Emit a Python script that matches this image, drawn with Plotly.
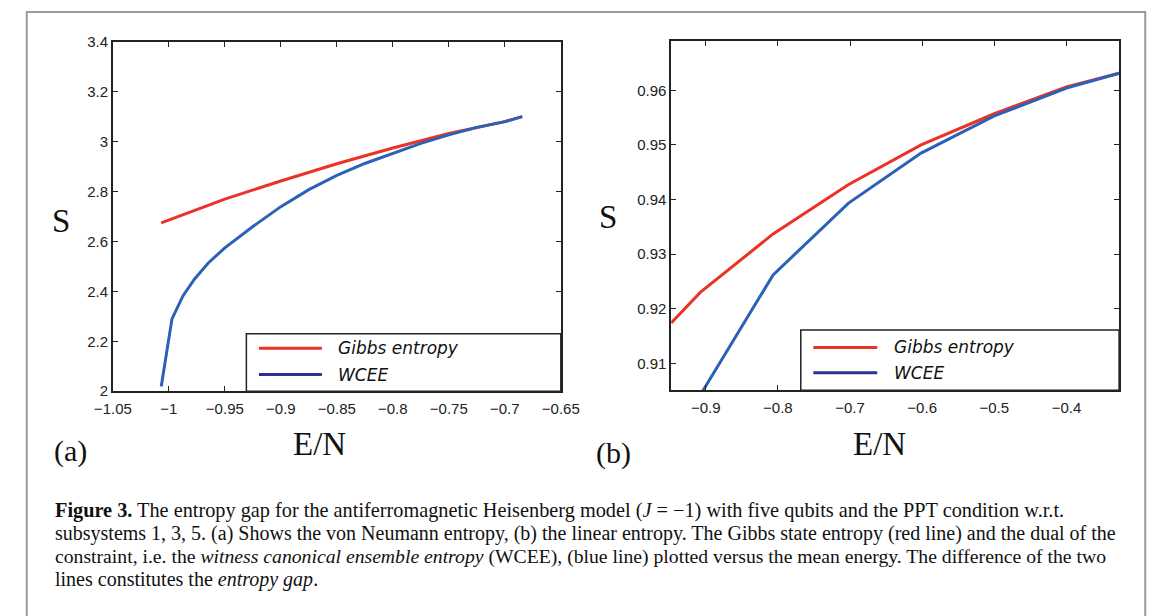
import plotly.graph_objects as go

W, H = 1171, 616

# ---------------- data ----------------
# panel (a): von Neumann entropy
a_gibbs_x = [-1.0068, -0.95, -0.9, -0.85, -0.8, -0.75, -0.7, -0.6845]
a_gibbs_y = [2.675, 2.770, 2.843, 2.912, 2.975, 3.033, 3.081, 3.101]
a_wcee_x = [-1.0068, -0.9972, -0.9873, -0.977, -0.965, -0.95, -0.925, -0.9,
            -0.875, -0.85, -0.825, -0.8, -0.775, -0.75, -0.725, -0.7, -0.6845]
a_wcee_y = [2.019, 2.290, 2.383, 2.450, 2.513, 2.575, 2.660, 2.740,
            2.808, 2.865, 2.913, 2.955, 2.994, 3.028, 3.058, 3.081, 3.101]

# panel (b): linear entropy
b_gibbs_x = [-0.948, -0.9076, -0.8066, -0.7025, -0.6015, -0.5, -0.4, -0.327]
b_gibbs_y = [0.9174, 0.9230, 0.9337, 0.9427, 0.9500, 0.9557, 0.9606, 0.9631]
b_wcee_x = [-0.948, -0.9076, -0.8066, -0.7025, -0.6015, -0.5, -0.4, -0.327]
b_wcee_y = [0.8940, 0.9042, 0.9262, 0.9393, 0.9485, 0.9553, 0.9604, 0.9631]

a_xticks = [-1.05, -1.0, -0.95, -0.9, -0.85, -0.8, -0.75, -0.7, -0.65]
a_xticktext = ["\u22121.05", "\u22121", "\u22120.95", "\u22120.9", "\u22120.85",
               "\u22120.8", "\u22120.75", "\u22120.7", "\u22120.65"]
a_yticks = [2.0, 2.2, 2.4, 2.6, 2.8, 3.0, 3.2, 3.4]
a_yticktext = ["2", "2.2", "2.4", "2.6", "2.8", "3", "3.2", "3.4"]

b_xticks = [-0.9, -0.8, -0.7, -0.6, -0.5, -0.4]
b_xticktext = ["\u22120.9", "\u22120.8", "\u22120.7", "\u22120.6", "\u22120.5", "\u22120.4"]
b_yticks = [0.91, 0.92, 0.93, 0.94, 0.95, 0.96]
b_yticktext = ["0.91", "0.92", "0.93", "0.94", "0.95", "0.96"]

legend_labels = ["Gibbs entropy", "WCEE"]

caption_lines = [
    "<b>Figure 3.</b> The entropy gap for the antiferromagnetic Heisenberg model (<i>J</i> = \u22121) with five qubits and the PPT condition w.r.t.",
    "subsystems 1, 3, 5. (a) Shows the von Neumann entropy, (b) the linear entropy. The Gibbs state entropy (red line) and the dual of the",
    "constraint, i.e. the <i>witness canonical ensemble entropy</i> (WCEE), (blue line) plotted versus the mean energy. The difference of the two",
    "lines constitutes the <i>entropy gap</i>.",
]

# ---------------- style ----------------
RED = "#ec3127"
BLUE = "#2b62b6"
NAVY = "#2e3192"
AX = "#222222"
SERIF = "Liberation Serif, Times New Roman, serif"
SANS = "Liberation Sans, Arial, sans-serif"


def px(x):
    return x / W


def py(y):
    return 1 - y / H


fig = go.Figure()
fig.add_trace(go.Scatter(x=a_gibbs_x, y=a_gibbs_y, mode="lines",
                         line=dict(color=RED, width=3), xaxis="x", yaxis="y"))
fig.add_trace(go.Scatter(x=a_wcee_x, y=a_wcee_y, mode="lines",
                         line=dict(color=BLUE, width=3), xaxis="x", yaxis="y"))
fig.add_trace(go.Scatter(x=b_gibbs_x, y=b_gibbs_y, mode="lines",
                         line=dict(color=RED, width=3), xaxis="x2", yaxis="y2"))
fig.add_trace(go.Scatter(x=b_wcee_x, y=b_wcee_y, mode="lines",
                         line=dict(color=BLUE, width=3), xaxis="x2", yaxis="y2"))

axis_common = dict(showline=True, linecolor=AX, linewidth=1.5, mirror="ticks",
                   ticks="inside", ticklen=5, tickwidth=1, tickcolor=AX,
                   showgrid=False, zeroline=False,
                   tickfont=dict(family=SANS, size=15, color="#222"))

fig.update_layout(
    width=W, height=H,
    margin=dict(l=0, r=0, t=0, b=0),
    paper_bgcolor="white", plot_bgcolor="white",
    showlegend=False,
    xaxis=dict(domain=[px(97), px(560)], range=[-1.05, -0.65], anchor="y",
               tickvals=a_xticks, ticktext=a_xticktext, ticklabelstandoff=3,
               **axis_common),
    yaxis=dict(domain=[py(393), py(34)], range=[2.0, 3.4], anchor="x",
               tickvals=a_yticks, ticktext=a_yticktext, **axis_common),
    xaxis2=dict(domain=[px(674), px(1137)], range=[-0.948, -0.327], anchor="y2",
                tickvals=b_xticks, ticktext=b_xticktext, ticklabelstandoff=3,
                **axis_common),
    yaxis2=dict(domain=[py(392), py(33)], range=[0.9051, 0.969], anchor="x2",
                tickvals=b_yticks, ticktext=b_yticktext, **axis_common),
)

shapes = []
annotations = []

# page frame
shapes.append(dict(type="rect", xref="paper", yref="paper",
                   x0=px(8), x1=px(1164), y0=py(640), y1=py(3),
                   line=dict(color="#9a9a9a", width=2), fillcolor="rgba(0,0,0,0)",
                   layer="below"))

# manual legends
legend_boxes = [
    dict(box=(235, 334, 560, 393), line=(248, 313), text_x=328, rows=(349, 376)),
    dict(box=(808, 330, 1137, 392), line=(821, 887), text_x=902, rows=(348, 374)),
]
for lg in legend_boxes:
    x0, y0, x1, y1 = lg["box"]
    shapes.append(dict(type="rect", xref="paper", yref="paper",
                       x0=px(x0), x1=px(x1), y0=py(y1), y1=py(y0),
                       line=dict(color=AX, width=1.5), fillcolor="white", layer="above"))
    for label, col, ry in zip(legend_labels, [RED, NAVY], lg["rows"]):
        shapes.append(dict(type="line", xref="paper", yref="paper",
                           x0=px(lg["line"][0]), x1=px(lg["line"][1]),
                           y0=py(ry), y1=py(ry), line=dict(color=col, width=3),
                           layer="above"))
        annotations.append(dict(xref="paper", yref="paper", x=px(lg["text_x"]), y=py(ry),
                                xanchor="left", yanchor="middle", showarrow=False,
                                text="<i>" + label + "</i>",
                                font=dict(family="Comic Sans MS, DejaVu Sans, sans-serif",
                                          size=17, color="#111")))

# axis titles and panel labels
for txt, x, y, size in [("S", 43, 218, 33), ("S", 609, 214, 33),
                        ("E/N", 311, 447, 33), ("E/N", 889, 447, 33),
                        ("(a)", 53, 455, 30), ("(b)", 614, 457, 30)]:
    annotations.append(dict(xref="paper", yref="paper", x=px(x), y=py(y),
                            xanchor="center", yanchor="middle", showarrow=False,
                            text=txt, font=dict(family=SERIF, size=size, color="#111")))

# caption
caption_sizes = [20.3, 20, 19.7, 20]
for i, line in enumerate(caption_lines):
    annotations.append(dict(xref="paper", yref="paper", x=px(35), y=py(516 + i * 23.5),
                            xanchor="left", yanchor="middle", showarrow=False,
                            text=line, font=dict(family=SERIF, size=caption_sizes[i],
                                                 color="#111")))

fig.update_layout(shapes=shapes, annotations=annotations)
fig.write_html(
    "out.html",
    config=dict(displayModeBar=False),
    post_script="document.body.style.margin='0';document.body.style.padding='0';"
                "document.documentElement.style.overflow='hidden';",
)
